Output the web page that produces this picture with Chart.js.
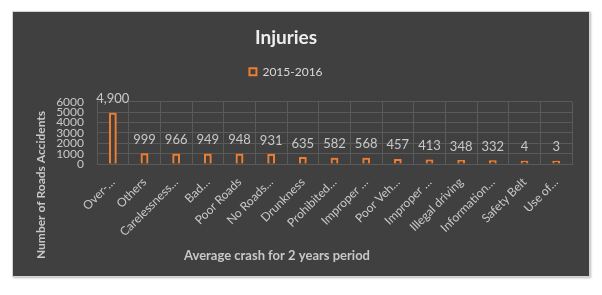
<!DOCTYPE html>
<html>
<head>
<meta charset="utf-8">
<script src="https://cdn.jsdelivr.net/npm/chart.js@4"></script>
<style>
  html,body{margin:0;padding:0;background:#fff;}
  .wrap{position:relative;width:602px;height:295px;}
  .panel{position:absolute;left:12px;top:11px;width:576px;height:264px;background:#404040;border:1px solid #d4d4d4;box-shadow:1px 1px 2px #bbb;}
  canvas{position:absolute;left:0;top:0;}
</style>
</head>
<body>
<div class="wrap">
  <div class="panel"></div>
  <canvas id="chart" width="602" height="295"></canvas>
</div>
<script>
/* ===== Dados ===== */
const categories = ['Over-…','Others','Carelessness…','Bad…','Poor Roads','No Roads…','Drunkness','Prohibited…','Improper …','Poor Veh…','Improper …','Illegal driving','Information…','Safety Belt','Use of…'];
const injuries   = [4900, 999, 966, 949, 948, 931, 635, 582, 568, 457, 413, 348, 332, 4, 3];
const seriesName = '2015-2016';
const yTicks     = [0, 1000, 2000, 3000, 4000, 5000, 6000];

/* ===== Estilo ===== */
const FONT   = 'Lato, "Open Sans", sans-serif';
const ORANGE = '#ed7d31';
const TXT    = '#c8c8c8';
const GRID   = '#5a5a5a';

const fmt = (n)=> Number(n).toLocaleString('en-US');

/* brilho nas barras + rótulos de valor */
const glowLabels = {
  id:'glowLabels',
  beforeLayout(chart){
    const lg = chart.legend;
    if (lg && !lg._patched){
      const f = lg.fit.bind(lg);
      lg.fit = function(){ f(); this.height += 14; };
      lg._patched = true;
    }
  },
  beforeDatasetsDraw(chart){
    const c = chart.ctx;
    c.save();
    c.shadowColor = 'rgba(240,130,50,0.95)';
    c.shadowBlur = 9;
  },
  afterDatasetsDraw(chart){
    const c = chart.ctx;
    c.restore();
    c.save();
    c.font = '13px ' + FONT;
    c.fillStyle = TXT;
    c.textAlign = 'center';
    c.textBaseline = 'middle';
    chart.getDatasetMeta(0).data.forEach((bar,i)=>{
      c.fillText(fmt(injuries[i]), bar.x, bar.y - 14);
    });
    c.restore();
  },
  afterDraw(chart){
    const c = chart.ctx;
    c.save();
    c.fillStyle = TXT;
    c.textAlign = 'center';
    c.textBaseline = 'middle';
    c.font = 'bold 13px ' + FONT;
    c.fillText('Average crash for 2 years period', 277, 256);
    c.translate(41, 185);
    c.rotate(-Math.PI/2);
    c.font = 'bold 12px ' + FONT;
    c.fillText('Number of Roads Accidents', 0, 0);
    c.restore();
  }
};

new Chart(document.getElementById('chart').getContext('2d'), {
  type:'bar',
  data:{
    labels: categories,
    datasets:[{
      label: seriesName,
      data: injuries,
      backgroundColor:'#404040',
      borderColor: ORANGE,
      borderWidth: 2,
      barThickness: 7,
      minBarLength: 3
    }]
  },
  options:{
    responsive:false,
    animation:false,
    layout:{ padding:{ top:11, right:30, bottom:0, left:0 } },
    plugins:{
      title:{ display:true, text:'Injuries', color:'#eeeeee', font:{ family:FONT, size:19, weight:'bold' }, padding:{ top:15, bottom:7 } },
      legend:{ display:true, labels:{ color:'#d9d9d9', boxWidth:7, boxHeight:7, padding:10, font:{ family:FONT, size:12 } } },
      tooltip:{ enabled:false }
    },
    scales:{
      x:{
        grid:{ color:GRID, offset:true, drawTicks:false },
        border:{ color:GRID },
        ticks:{ color:TXT, font:{ family:FONT, size:12 }, minRotation:45, maxRotation:45, autoSkip:false, padding:11 },
        afterFit(s){ s.height = 131; }
      },
      y:{
        min:0, max:6000,
        grid:{ color:GRID, drawTicks:false },
        border:{ color:GRID },
        ticks:{ color:TXT, font:{ family:FONT, size:12 }, stepSize:1000, autoSkip:false, padding:13, callback:(v)=> String(v) },
        afterBuildTicks(s){ s.ticks = yTicks.map(v=>({value:v})); },
        afterFit(s){ s.width = 97; }
      }
    }
  },
  plugins:[glowLabels]
});
</script>
</body>
</html>
